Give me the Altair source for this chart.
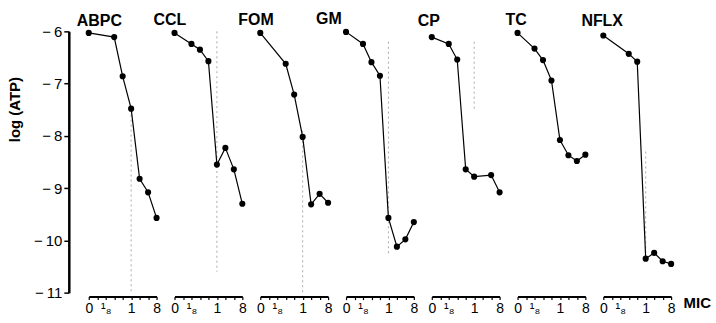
import altair as alt
import pandas as pd

# x index on a log2 scale of multiples of MIC: 0 -> 0, 2 -> 1/8, 3 -> 1/4, 4 -> 1/2, 5 -> 1, 6 -> 2, 7 -> 4, 8 -> 8
drugs = ["ABPC", "CCL", "FOM", "GM", "CP", "TC", "NFLX"]
abpc_x = [0, 3, 4, 5, 6, 7, 8]
abpc_y = [-6.03, -6.11, -6.86, -7.48, -8.82, -9.08, -9.57]
ccl_x = [0, 2, 3, 4, 5, 6, 7, 8]
ccl_y = [-6.03, -6.24, -6.35, -6.57, -8.55, -8.23, -8.64, -9.30]
fom_x = [0, 3, 4, 5, 6, 7, 8]
fom_y = [-6.03, -6.62, -7.21, -8.02, -9.31, -9.11, -9.28]
gm_x = [0, 2, 3, 4, 5, 6, 7, 8]
gm_y = [-6.01, -6.24, -6.59, -6.85, -9.57, -10.12, -9.98, -9.65]
cp_x = [0, 2, 3, 4, 5, 7, 8]
cp_y = [-6.11, -6.24, -6.54, -8.64, -8.78, -8.75, -9.08]
tc_x = [0, 2, 3, 4, 5, 6, 7, 8]
tc_y = [-6.03, -6.33, -6.55, -6.94, -8.08, -8.37, -8.48, -8.36]
nflx_x = [0, 3, 4, 5, 6, 7, 8]
nflx_y = [-6.08, -6.43, -6.58, -10.35, -10.24, -10.40, -10.45]

# dotted MIC marker per panel (at x index 5 = 1 x MIC)
mic_x = 5
mic_top = [-7.5, -6.0, -7.9, -6.2, -6.2, -8.0, -8.3]
mic_bottom = [-11.0, -10.6, -11.0, -10.3, -7.5, -8.2, -10.3]

tick_values = [0, 2, 5, 8]
tick_labels = ["0", "¹₈", "1", "8"]
y_ticks = [-11, -10, -9, -8, -7, -6]

series_x = [abpc_x, ccl_x, fom_x, gm_x, cp_x, tc_x, nflx_x]
series_y = [abpc_y, ccl_y, fom_y, gm_y, cp_y, tc_y, nflx_y]
title_dx = [-12, -21, -22, -30, -14, -12, -22]
title_dy = [7, 0, 0, 0, 0, 0, 0]

FONT = "Liberation Sans"

label_expr = " : ".join(
    f"datum.value == {v} ? '{t}'" for v, t in zip(tick_values, tick_labels)
) + " : ''"

panels = []
for i, name in enumerate(drugs):
    df = pd.DataFrame({"idx": series_x[i], "atp": series_y[i]})
    mic_df = pd.DataFrame({"idx": [mic_x], "top": [mic_top[i]], "bottom": [mic_bottom[i]]})
    last = i == len(drugs) - 1
    first = i == 0
    xaxis_kwargs = dict(
        values=list(range(9)), labelExpr=label_expr, grid=False,
        domainColor="black", domainWidth=2, tickColor="black", tickWidth=1.2,
        tickSize=3, labelFontSize=14, labelFont=FONT, labelColor="black",
        labelPadding=2, offset=4, labelFlush=False, labelOverlap=False,
    )
    if last:
        xaxis_kwargs.update(title="MIC", titleFont=FONT, titleFontSize=15,
                            titleFontWeight="bold", titleColor="black",
                            titleAlign="left", titleBaseline="middle",
                            titleX=80, titleY=6, titleAngle=0)
    else:
        xaxis_kwargs.update(title=None)
    x_scale = alt.Scale(domain=[0, 8], nice=False, zero=False)
    xaxis = alt.Axis(**xaxis_kwargs)
    if first:
        yaxis = alt.Axis(values=y_ticks, grid=False, domainColor="black", domainWidth=2.5,
                         tickColor="black", tickWidth=1.5, tickSize=5, labelFontSize=15,
                         labelFont=FONT, labelColor="black", labelPadding=2, offset=20,
                         labelExpr="'\u2212\u2009' + abs(datum.value)",
                         title="log (ATP)", titleFont=FONT, titleFontSize=15,
                         titleFontWeight="bold", titleColor="black", titleX=-46,
                         titleY=78, titleAlign="center", titleBaseline="bottom")
    else:
        yaxis = None
    y_scale = alt.Scale(domain=[-11, -6], nice=False, zero=False)

    rule = alt.Chart(mic_df).mark_rule(color="#aaaaaa", strokeDash=[2, 3], strokeWidth=1).encode(
        x=alt.X("idx:Q", scale=x_scale, axis=xaxis),
        y=alt.Y("top:Q", scale=y_scale, axis=yaxis),
        y2="bottom:Q",
    )
    line = alt.Chart(df).mark_line(color="black", strokeWidth=1.2).encode(
        x=alt.X("idx:Q", scale=x_scale, axis=xaxis),
        y=alt.Y("atp:Q", scale=y_scale, axis=yaxis),
    )
    pts = alt.Chart(df).mark_circle(color="black", size=38, opacity=1).encode(
        x=alt.X("idx:Q", scale=x_scale, axis=xaxis),
        y=alt.Y("atp:Q", scale=y_scale, axis=yaxis),
    )
    p = alt.layer(rule, line, pts).properties(
        width=68, height=262,
        title=alt.TitleParams(name, anchor="start", frame="group", fontSize=16,
                              fontWeight="bold", font=FONT, color="black",
                              dx=title_dx[i], dy=title_dy[i], offset=-14,
                              baseline="bottom"),
    )
    panels.append(p)

chart = alt.hconcat(*panels, spacing=18, bounds="flush").properties(
    padding={"left": 8, "top": 10, "right": 5, "bottom": 5},
    background="white",
).configure_view(stroke=None)

chart.save("out.html", embed_options={"renderer": "svg", "actions": False})
